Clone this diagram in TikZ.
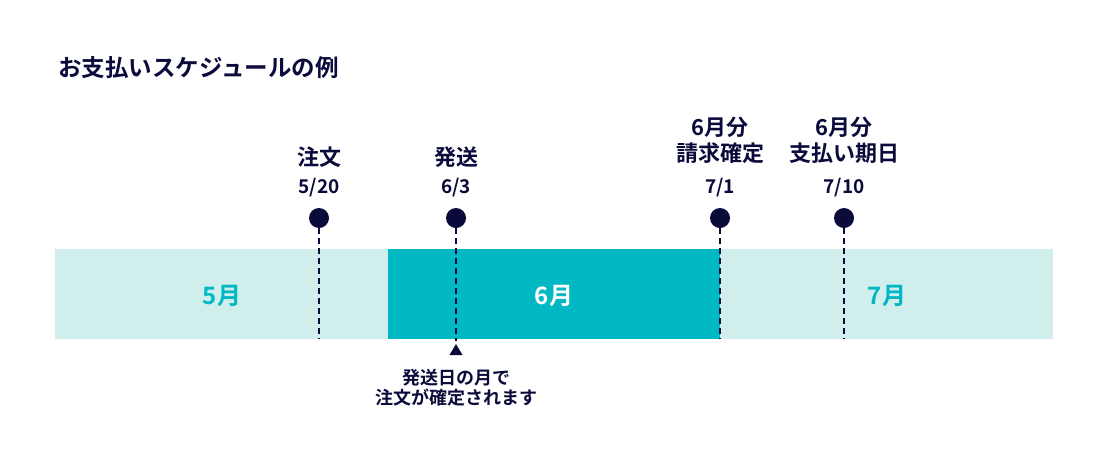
\documentclass[tikz,border=0pt]{standalone}
\usepackage{fontspec}
\setmainfont{Noto Sans CJK JP}[BoldFont={* Bold}]
\definecolor{navy}{HTML}{0B0B3B}
\definecolor{teal}{HTML}{00B8C4}
\definecolor{lightteal}{HTML}{D0EFEC}
\begin{document}
\begin{tikzpicture}[x=1pt,y=-1pt,
  lbl/.style={text=navy,font=\bfseries\fontsize{22}{26}\selectfont,align=center,inner sep=0pt},
  datelbl/.style={text=navy,font=\bfseries\fontsize{19}{21}\selectfont,inner sep=0pt},
  dot/.style={circle,fill=navy,minimum size=20pt,inner sep=0pt},
  mon/.style={font=\bfseries\fontsize{24}{26}\selectfont,inner sep=0pt},
  vline/.style={draw=navy,line width=2pt,dash pattern=on 6pt off 4pt}]
\useasboundingbox (0,0) rectangle (1108,456);
\fill[white] (0,0) rectangle (1108,456);
% bar
\fill[lightteal] (55,249) rectangle (1053,339);
\fill[teal] (388,249) rectangle (720,339);
\node[mon,text=teal] (m5) at (222,296) {5月};
\node[mon,text=white] (m6) at (554,296) {6月};
\node[mon,text=teal] (m7) at (887,296) {7月};
% title
\node[anchor=west,text=navy,font=\bfseries\fontsize{23.5}{26}\selectfont,inner sep=0pt] (title) at (58,68) {お支払いスケジュールの例};
% dots
\node[dot] (d1) at (319,218) {};
\node[dot] (d2) at (456,218) {};
\node[dot] (d3) at (720,218) {};
\node[dot] (d4) at (844,218) {};
\coordinate (e1) at (319,339);
\coordinate (e2) at (456,341);
\coordinate (e3) at (720,339);
\coordinate (e4) at (844,339);
\draw[vline] (d1.center) -- (e1);
\draw[vline] (d2.center) -- (e2);
\draw[vline] (d3.center) -- (e3);
\draw[vline] (d4.center) -- (e4);
% dates
\node[datelbl] (t1) at (319,188) {5/20};
\node[datelbl] (t2) at (456,188) {6/3};
\node[datelbl] (t3) at (720,188) {7/1};
\node[datelbl] (t4) at (844,188) {7/10};
% labels
\node[lbl] (l1) at (319,157) {注文};
\node[lbl] (l2) at (456,157) {発送};
\node[lbl] (l3) at (720,140) {6月分\\請求確定};
\node[lbl] (l4) at (844,140) {6月分\\支払い期日};
% triangle
\fill[navy] (456,344) -- (462.5,355) -- (449.5,355) -- cycle;
\node[text=navy,font=\bfseries\fontsize{18}{20}\selectfont,align=center,inner sep=0pt] (note) at (456,388) {発送日の月で\\注文が確定されます};
\end{tikzpicture}
\end{document}
